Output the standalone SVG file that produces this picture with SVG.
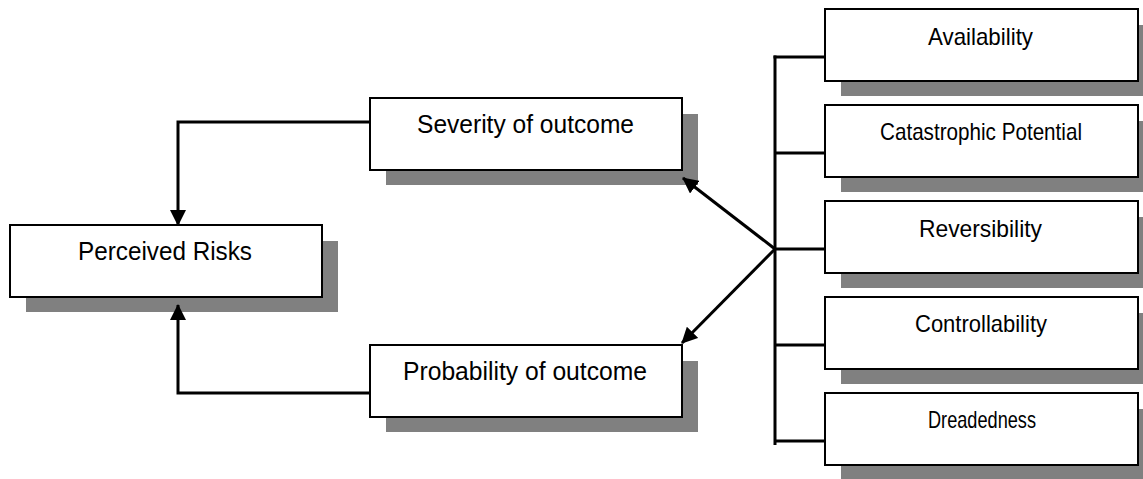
<svg xmlns="http://www.w3.org/2000/svg" width="1143" height="479" viewBox="0 0 1143 479">
<style>
.sh{fill:#808080;stroke:none}
.bx{fill:#fff;stroke:#000;stroke-width:2}
.t{font-family:"Liberation Sans",Arial,sans-serif;font-size:25px;fill:#000;text-anchor:middle}
.tr{font-family:"Liberation Sans",Arial,sans-serif;font-size:24px;fill:#000;text-anchor:middle}
.ln{fill:none;stroke:#000;stroke-width:3}
</style>
<defs>
<marker id="ah" markerUnits="userSpaceOnUse" markerWidth="16" markerHeight="16" viewBox="0 0 16 16" refX="15" refY="8" orient="auto">
<path d="M0,0 L16,8 L0,16 z" fill="#000"/>
</marker>
</defs>
<g id="node-perceived">
<rect class="sh" x="26" y="241" width="312" height="71"/>
<rect class="bx" x="10" y="225" width="312" height="72"/>
<text class="t" x="165" y="260" textLength="174" lengthAdjust="spacingAndGlyphs">Perceived Risks</text>
</g>
<g id="node-severity">
<rect class="sh" x="386" y="114" width="312" height="71"/>
<rect class="bx" x="370" y="98" width="312" height="72"/>
<text class="t" x="525.5" y="133" textLength="217" lengthAdjust="spacingAndGlyphs">Severity of outcome</text>
</g>
<g id="node-probability">
<rect class="sh" x="386" y="361" width="312" height="71"/>
<rect class="bx" x="370" y="345" width="312" height="72"/>
<text class="t" x="525" y="380" textLength="244" lengthAdjust="spacingAndGlyphs">Probability of outcome</text>
</g>
<g id="node-availability">
<rect class="sh" x="841" y="25" width="313" height="71"/>
<rect class="bx" x="825" y="9" width="313" height="72"/>
<text class="tr" x="980.5" y="45" textLength="105" lengthAdjust="spacingAndGlyphs">Availability</text>
</g>
<g id="node-catastrophic">
<rect class="sh" x="841" y="121" width="313" height="71"/>
<rect class="bx" x="825" y="105" width="313" height="72"/>
<text class="tr" x="981" y="140" textLength="202" lengthAdjust="spacingAndGlyphs">Catastrophic Potential</text>
</g>
<g id="node-reversibility">
<rect class="sh" x="841" y="217" width="313" height="71"/>
<rect class="bx" x="825" y="201" width="313" height="72"/>
<text class="tr" x="980.5" y="237" textLength="123" lengthAdjust="spacingAndGlyphs">Reversibility</text>
</g>
<g id="node-controllability">
<rect class="sh" x="841" y="313" width="313" height="71"/>
<rect class="bx" x="825" y="297" width="313" height="72"/>
<text class="tr" x="981" y="332" textLength="132" lengthAdjust="spacingAndGlyphs">Controllability</text>
</g>
<g id="node-dreadedness">
<rect class="sh" x="841" y="409" width="313" height="71"/>
<rect class="bx" x="825" y="393" width="313" height="72"/>
<text class="tr" x="982" y="428" textLength="108" lengthAdjust="spacingAndGlyphs">Dreadedness</text>
</g>
<g id="connectors">
<polyline class="ln" points="370,122 178,122 178,225" marker-end="url(#ah)"/>
<polyline class="ln" points="370,393 178,393 178,305" marker-end="url(#ah)"/>
<line class="ln" x1="775" y1="55.5" x2="775" y2="445"/>
<line class="ln" x1="773.5" y1="57" x2="825" y2="57"/>
<line class="ln" x1="775" y1="153" x2="825" y2="153"/>
<line class="ln" x1="775" y1="249" x2="825" y2="249"/>
<line class="ln" x1="775" y1="345" x2="825" y2="345"/>
<line class="ln" x1="775" y1="441" x2="825" y2="441"/>
<line class="ln" x1="775" y1="249" x2="683" y2="178" marker-end="url(#ah)"/>
<line class="ln" x1="775" y1="249" x2="682" y2="343" marker-end="url(#ah)"/>
</g>
</svg>
